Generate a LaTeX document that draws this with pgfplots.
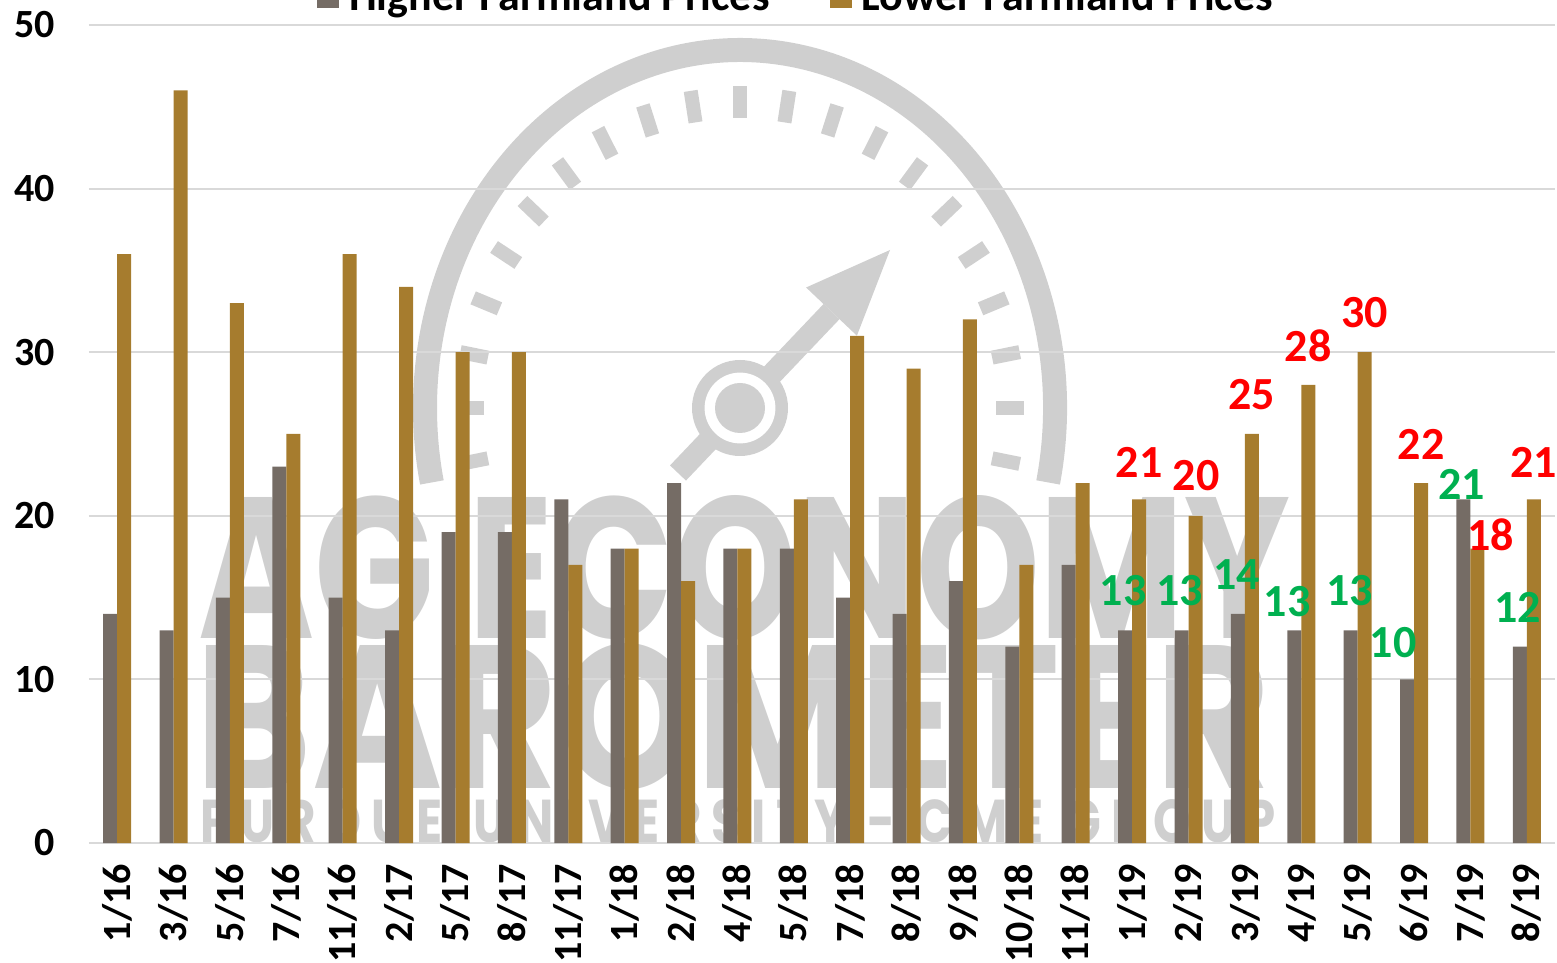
\documentclass[border=0pt]{standalone}
\usepackage{fontspec}
\setmainfont{Carlito}
\newfontfamily\wmfont{Poppins}
\usepackage{pgfplots}
\pgfplotsset{compat=1.18}
\usepackage{pgfplotstable}
\definecolor{hicol}{HTML}{756C65}
\definecolor{locol}{HTML}{A67C2E}
\definecolor{gridc}{HTML}{D9D9D9}
\definecolor{wm}{HTML}{CFCFCF}
\definecolor{grn}{HTML}{00B050}
\definecolor{rd}{HTML}{FF0000}

\pgfplotstableread{
x hi lo hil lol hdx hdy ldx ldy
0 14 36 {} {} 0 0 0 0
1 13 46 {} {} 0 0 0 0
2 15 33 {} {} 0 0 0 0
3 23 25 {} {} 0 0 0 0
4 15 36 {} {} 0 0 0 0
5 13 34 {} {} 0 0 0 0
6 19 30 {} {} 0 0 0 0
7 19 30 {} {} 0 0 0 0
8 21 17 {} {} 0 0 0 0
9 18 18 {} {} 0 0 0 0
10 22 16 {} {} 0 0 0 0
11 18 18 {} {} 0 0 0 0
12 18 21 {} {} 0 0 0 0
13 15 31 {} {} 0 0 0 0
14 14 29 {} {} 0 0 0 0
15 16 32 {} {} 0 0 0 0
16 12 17 {} {} 0 0 0 0
17 17 22 {} {} 0 0 0 0
18 13 21 13 21 -1 20 0 18.5
19 13 20 13 20 -1 20 0.25 20
20 14 25 14 25 -0.5 19.75 0 19.5
21 13 28 13 28 -3.5 14.5 0 19.5
22 13 30 13 30 -0.5 20 0 20
23 10 22 10 22 -7 18.5 0 19.5
24 21 18 21 18 -1 7.5 6.7 6.75
25 12 21 12 21 -1 19.5 0 18.5
}\data

\begin{document}
\begin{tikzpicture}
% ---- watermark (background logo) ----
\begin{scope}[wm]
\draw[line width=12pt] (325.5pt,217.5pt) ++(-12:157.5pt and 179pt) arc[start angle=-12, end angle=192, x radius=157.5pt, y radius=179pt];
\foreach \a in {-10,0,...,190}{
  \draw[line width=7pt] ([shift={(\a:128pt and 145pt)}]325.5pt,217.5pt) -- ([shift={(\a:142pt and 161pt)}]325.5pt,217.5pt);
}
\draw[line width=11pt] (294.5pt,185pt) -- (371.25pt,265.7pt);
\fill (400.5pt,296.5pt) -- (383.95pt,253.65pt) -- (358.55pt,277.75pt) -- cycle;
\fill (325.5pt,217.5pt) circle[radius=24pt];
\fill[white] (325.5pt,217.5pt) circle[radius=17.7pt];
\fill (325.5pt,217.5pt) circle[radius=12.5pt];
\node[anchor=south west, inner sep=0pt] at (54.5pt,101.5pt) {\resizebox{546pt}{71.5pt}{\wmfont\bfseries AG ECONOMY}};
\node[anchor=south west, inner sep=0pt] at (53pt,26.5pt) {\resizebox{537.5pt}{72.5pt}{\wmfont\bfseries BAROMETER}};
\node[anchor=south west, inner sep=0pt] at (55.5pt,0pt) {\resizebox{537.5pt}{21.5pt}{\wmfont\bfseries P U R D U E \ \ U N I V E R S I T Y \ - \ C M E \ G R O U P}};
\end{scope}
% ---- chart ----
\begin{axis}[
  at={(0pt,0pt)}, anchor=south west,
  scale only axis, width=733pt, height=409pt,
  xmin=-0.5, xmax=25.5, ymin=0, ymax=50,
  ybar=0pt, bar width=7pt,
  ytick={0,10,...,50},
  xtick={0,...,25},
  xticklabels={1/16,3/16,5/16,7/16,11/16,2/17,5/17,8/17,11/17,1/18,2/18,4/18,5/18,7/18,8/18,9/18,10/18,11/18,1/19,2/19,3/19,4/19,5/19,6/19,7/19,8/19},
  ymajorgrids, major grid style={gridc, line width=1pt},
  axis line style={draw=none},
  major tick length=0pt,
  /pgf/number format/assume math mode=true,
  yticklabel style={font=\bfseries\fontsize{20}{24}\selectfont, xshift=-13.5pt},
  xticklabel style={font=\bfseries\fontsize{20}{24}\selectfont, yshift=-7pt, rotate=90, anchor=east},
  legend style={at={(0.483,1)}, anchor=center, yshift=14pt, draw=none, fill=none,
    font=\bfseries\fontsize{22}{26}\selectfont, legend columns=2,
    /tikz/every odd column/.append style={column sep=3pt},
    /tikz/every even column/.append style={column sep=28pt}},
  legend image code/.code={\fill[#1] (0pt,-5.5pt) rectangle (11pt,5.5pt);},
]
\addplot[fill=hicol, draw=none,
  point meta=explicit symbolic,
  visualization depends on={\thisrow{hdx} \as \hdx},
  visualization depends on={\thisrow{hdy} \as \hdy},
  nodes near coords,
  every node near coord/.append style={font=\bfseries\fontsize{23}{27}\selectfont, text=grn, anchor=center, xshift=\hdx pt, yshift=\hdy pt}]
  table[x=x, y=hi, meta=hil]{\data};
\addlegendentry{Higher Farmland Prices}
\addplot[fill=locol, draw=none,
  point meta=explicit symbolic,
  visualization depends on={\thisrow{ldx} \as \ldx},
  visualization depends on={\thisrow{ldy} \as \ldy},
  nodes near coords,
  every node near coord/.append style={font=\bfseries\fontsize{23}{27}\selectfont, text=rd, anchor=center, xshift=\ldx pt, yshift=\ldy pt}]
  table[x=x, y=lo, meta=lol]{\data};
\addlegendentry{Lower Farmland Prices}
\end{axis}
\pgfresetboundingbox
\useasboundingbox (-44.5pt,-60pt) rectangle (734pt,421.5pt);
\end{tikzpicture}
\end{document}
